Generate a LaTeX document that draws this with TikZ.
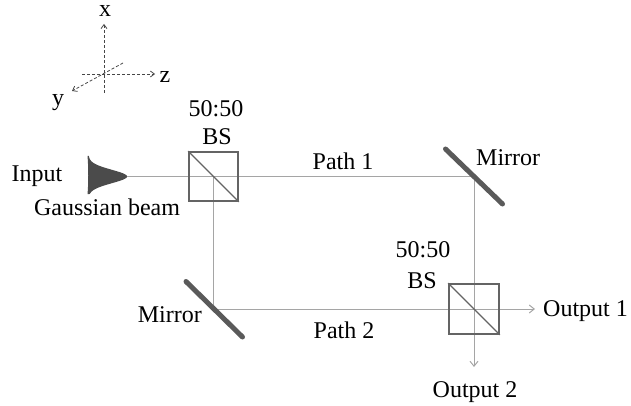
\documentclass[tikz,border=0pt]{standalone}
\usepackage{fontspec}
\setmainfont{Liberation Serif}
\usetikzlibrary{arrows.meta}
\definecolor{beamgray}{RGB}{165,165,165}
\definecolor{boxgray}{RGB}{100,100,100}
\definecolor{mirrorgray}{RGB}{90,90,90}
\definecolor{axgray}{RGB}{70,70,70}
\definecolor{gausscol}{RGB}{75,75,75}
\begin{document}
\begin{tikzpicture}[x=1pt,y=-1pt,
  lbl/.style={font=\fontsize{24}{28}\selectfont, inner sep=0pt, anchor=base},
  beam/.style={draw=beamgray, line width=1pt},
  outarrow/.style={-{Straight Barb[length=5pt,width=8pt]}},
  axis/.style={draw=axgray, dash pattern=on 3pt off 2pt, line width=0.8pt},
  axarrow/.style={-{Straight Barb[length=4pt,width=6pt]}},
  bsbox/.style={draw=boxgray, line width=1.6pt, minimum size=49pt, inner sep=0pt},
  mirror/.style={draw=mirrorgray, line width=5pt, line cap=round}]
\useasboundingbox (0,0) rectangle (631,406);
% axes
\coordinate (ax0) at (104,74);
\coordinate (xtop) at (104,24);
\coordinate (xbot) at (104,93);
\coordinate (zl) at (82,74);
\coordinate (zr) at (155,74);
\coordinate (yb) at (123,63);
\coordinate (yf) at (72,91);
\draw[axis, axarrow] (xbot) -- (xtop);
\draw[axis, axarrow] (zl) -- (zr);
\draw[axis, axarrow] (yb) -- (yf);
\node[lbl] (lx) at (105,16.5) {x};
\node[lbl] (ly) at (58,106) {y};
\node[lbl] (lz) at (165,83) {z};
% gaussian beam
\fill[gausscol] (87.5,156) -- plot[domain=156:194, samples=100, variable=\t]
  ({88.5+38.5*exp(-((\t-176.5)/9.5)*((\t-176.5)/9.5))}, \t) -- (87.5,194)
  .. controls (88.5,185) and (88.5,166) .. (87.5,156) -- cycle;
% coordinates
\coordinate (tip) at (127,176.5);
\coordinate (c1) at (213.5,176.5);
\coordinate (m1) at (474,176.5);
\coordinate (m2) at (213.5,309);
\coordinate (c2) at (474,309);
\coordinate (o1) at (535,309);
\coordinate (o2) at (474,367);
% beams
\draw[beam, outarrow] (tip) -- (m1) -- (o2);
\draw[beam, outarrow] (c1) -- (m2) -- (o1);
% beam splitters
\node[bsbox] (bs1) at (c1) {};
\draw[boxgray, line width=1.4pt] (bs1.north west) -- (bs1.south east);
\node[bsbox, minimum size=50pt] (bs2) at (c2) {};
\draw[boxgray, line width=1.4pt] (bs2.north west) -- (bs2.south east);
% mirrors
\draw[mirror, shift={(m1)}] (-28.5,-27.5) -- (28.5,27.5);
\draw[mirror, shift={(m2)}] (-27.5,-27.5) -- (29,28);
% labels
\node[lbl] (bs1t) at (216,117) {50:50};
\node[lbl] (bs1b) at (217,145) {BS};
\node[lbl] (in) at (37,182) {Input};
\node[lbl] (gb) at (107,215) {Gaussian beam};
\node[lbl] (p1) at (343,170) {Path 1};
\node[lbl, anchor=base west] (m1l) at (476,165) {Mirror};
\node[lbl] (bs2t) at (423,257) {50:50};
\node[lbl] (bs2b) at (422,288) {BS};
\node[lbl, anchor=base west] (o1l) at (543,316) {Output 1};
\node[lbl] (o2l) at (475,397) {Output 2};
\node[lbl, anchor=base east] (m2l) at (202,322) {Mirror};
\node[lbl] (p2) at (344,338) {Path 2};
\end{tikzpicture}
\end{document}
